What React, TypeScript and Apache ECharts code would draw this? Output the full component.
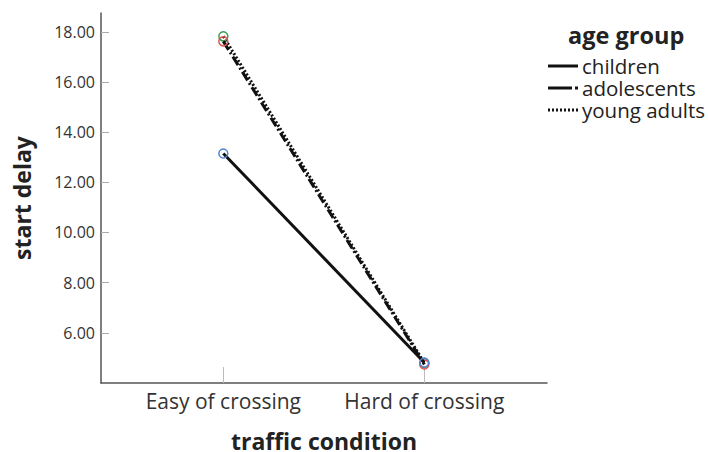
import React, { useEffect, useRef } from "react";
import * as echarts from "echarts";

const categories = ["Easy of crossing", "Hard of crossing"];
const seriesNames = ["children", "adolescents", "young adults"];
const childrenValues = [13.15, 4.82];
const adolescentsValues = [17.62, 4.74];
const youngAdultsValues = [17.82, 4.8];
const yTickValues = [6, 8, 10, 12, 14, 16, 18];
const markerColors = ["#4f86d6", "#d9534f", "#3f9a4f"];
const lineDashes: (number[] | "solid")[] = ["solid", [10, 3, 2, 3], [2, 2]];

const FONT = "'Open Sans', 'DejaVu Sans', sans-serif";

export default function App() {
  const ref = useRef<HTMLDivElement>(null);
  useEffect(() => {
    if (!ref.current) return;
    const chart = echarts.init(ref.current, undefined, { renderer: "svg" });
    const allValues = [childrenValues, adolescentsValues, youngAdultsValues];
    const series = allValues.map((vals, i) => ({
      name: seriesNames[i],
      type: "line",
      data: vals.map((v, j) => [j, v]),
      symbol: "circle",
      symbolSize: 9,
      showSymbol: true,
      lineStyle: { color: "#111", width: 3, type: lineDashes[i] },
      itemStyle: { color: "rgba(0,0,0,0)", borderColor: markerColors[i], borderWidth: 1.5 },
      z: 3 - i,
    }));

    const legendX = 548;
    const legendRows = [66, 88, 110];
    const legendGraphics: any[] = [
      {
        type: "text",
        left: 568,
        top: 23,
        style: { text: "age group", font: `bold 23.5px ${FONT}`, fill: "#222" },
      },
    ];
    seriesNames.forEach((name, i) => {
      const y = legendRows[i];
      if (i === 1) {
        legendGraphics.push({
          type: "line",
          shape: { x1: legendX, y1: y, x2: legendX + 24, y2: y },
          style: { stroke: "#111", lineWidth: 3 },
        });
        legendGraphics.push({
          type: "line",
          shape: { x1: legendX + 27, y1: y, x2: legendX + 30, y2: y },
          style: { stroke: "#111", lineWidth: 3 },
        });
      } else {
        legendGraphics.push({
          type: "line",
          shape: { x1: legendX, y1: y, x2: legendX + 30, y2: y },
          style: {
            stroke: "#111",
            lineWidth: 3,
            lineDash: i === 2 ? [2, 2] : null,
          },
        });
      }
      legendGraphics.push({
        type: "text",
        x: legendX + 34,
        y: y,
        style: {
          text: name,
          font: `20.5px ${FONT}`,
          lineHeight: 20,
          fill: "#222",
          textVerticalAlign: "middle",
          verticalAlign: "middle",
        },
      });
    });

    chart.setOption({
      animation: false,
      backgroundColor: "#fff",
      grid: { left: 101, right: 161, top: 13, bottom: 69, outerBoundsMode: "none", containLabel: false },
      xAxis: {
        type: "value",
        min: -0.6085,
        max: 1.6104,
        name: "traffic condition",
        nameLocation: "middle",
        nameGap: 46,
        nameTextStyle: { fontFamily: FONT, fontWeight: "bold", fontSize: 23, lineHeight: 23, color: "#222" },
        axisLine: { onZero: false, lineStyle: { color: "#555", width: 1.5 } },
        axisTick: {
          show: true,
          inside: true,
          length: 16,
          customValues: [0, 1],
          lineStyle: { color: "#bbb", width: 1 },
        },
        axisLabel: {
          customValues: [0, 1],
          formatter: (v: number) => categories[Math.round(v)] ?? "",
          fontFamily: FONT,
          fontSize: 21,
          color: "#333",
          margin: 7,
        },
        splitLine: { show: false },
      },
      yAxis: {
        type: "value",
        min: 4,
        max: 18.75,
        name: "start delay",
        nameLocation: "middle",
        nameGap: 68,
        nameTextStyle: { fontFamily: FONT, fontWeight: "bold", fontSize: 23, color: "#222" },
        axisLine: { show: true, onZero: false, lineStyle: { color: "#555", width: 1.5 } },
        axisTick: {
          show: true,
          inside: true,
          length: 8,
          customValues: yTickValues,
          lineStyle: { color: "#aaa", width: 1 },
        },
        axisLabel: {
          customValues: yTickValues,
          formatter: (v: number) => v.toFixed(2),
          fontFamily: FONT,
          fontSize: 16,
          color: "#333",
          margin: 6,
        },
        splitLine: { show: false },
      },
      series,
      graphic: legendGraphics,
    });
    return () => chart.dispose();
  }, []);
  return (
    <div
      ref={ref}
      style={{ position: "absolute", left: 0, top: 0, width: 708, height: 452 }}
    />
  );
}
